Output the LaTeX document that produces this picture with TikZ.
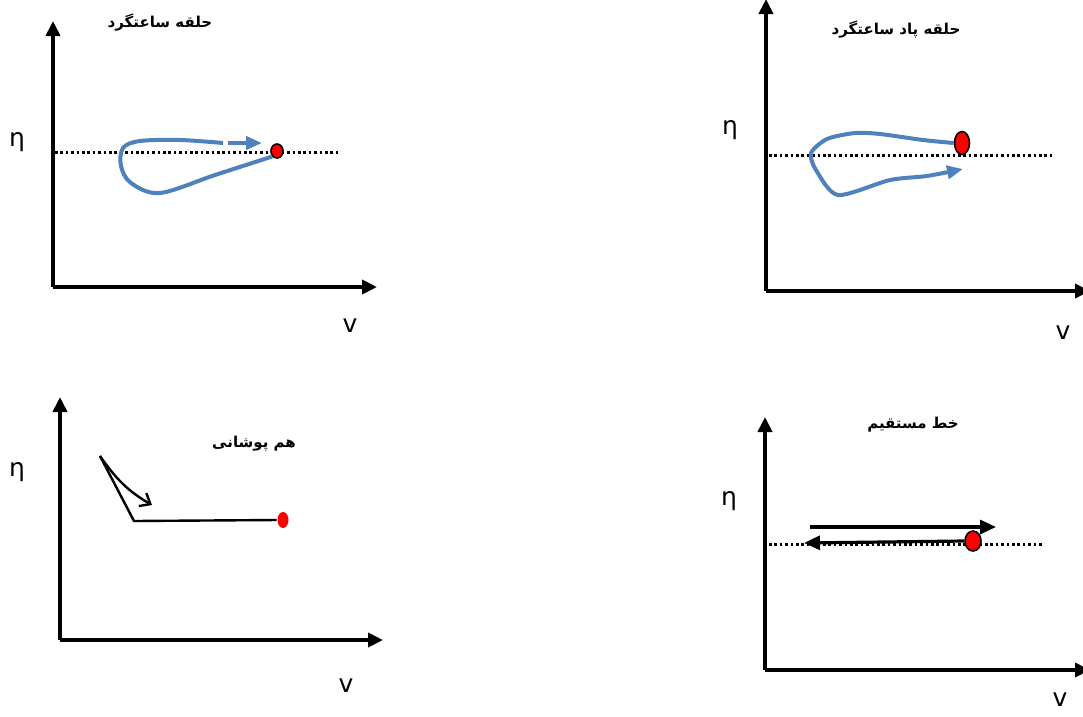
\documentclass[tikz,border=0pt]{standalone}
\usepackage{fontspec}
\setmainfont{DejaVu Sans}
\newfontfamily\farsi[Script=Arabic]{DejaVu Sans}
\TeXXeTstate=1
\usepackage{tikz}
\usetikzlibrary{shapes.geometric, arrows.meta, positioning}
\definecolor{loopblue}{RGB}{79,129,189}
\tikzstyle{axis} = [line width=3.8pt, -{Triangle[length=15pt,width=14pt]}]
\tikzstyle{level} = [line width=3pt, dash pattern=on 2.6pt off 2.8pt]
\tikzstyle{title} = [font=\farsi\bfseries\fontsize{15}{17}\selectfont]
\tikzstyle{sym} = [font=\fontsize{25}{27}\selectfont]
\tikzstyle{reddot} = [ellipse, draw=black, fill=red, line width=1.6pt, inner sep=0pt, minimum width=11pt, minimum height=13pt]
\tikzstyle{loopline} = [loopblue, line width=4pt]
\tikzstyle{bluetip} = [-{Triangle[length=16pt,width=13pt]}]
\tikzstyle{arrow} = [line width=3.2pt, -{Triangle[length=16pt,width=14pt]}]

\begin{document}
\begin{tikzpicture}[x=1pt,y=-1pt]
\useasboundingbox (0,0) rectangle (1083,716);

% clockwise loop
\coordinate (o1) at (53,287);
\coordinate (y1) at (53,21);
\coordinate (x1) at (377,287);
\draw [axis] (o1) -- (y1);
\draw [axis] (o1) -- (x1);
\node (t1) [title] at (160,23) {\beginR حلقه ساعتگرد\endR};
\node (eta1) [sym] at (17,142) {η};
\node (v1) [sym] at (350,326) {v};
\coordinate (l1a) at (55,152);
\coordinate (l1b) at (340,152);
\draw [level] (l1a) -- (l1b);
\node (p1) [reddot, minimum width=12pt, minimum height=14pt] at (277,151) {};
\draw [loopline] plot[smooth, tension=0.55] coordinates {(p1.south west) (215,175) (160,193) (131,183) (121,166) (123,148) (140,141) (180,140) (223,143)};
\coordinate (a1a) at (228,143);
\coordinate (a1b) at (262,143);
\draw [loopline, bluetip] (a1a) -- (a1b);

% counter-clockwise loop
\coordinate (o2) at (766,291);
\coordinate (y2) at (766,-1);
\coordinate (x2) at (1090,291);
\draw [axis] (o2) -- (y2);
\draw [axis] (o2) -- (x2);
\node (t2) [title] at (896,30) {\beginR حلقه پاد ساعتگرد\endR};
\node (eta2) [sym] at (730,130) {η};
\node (v2) [sym] at (1063,333) {v};
\coordinate (l2a) at (769,155);
\coordinate (l2b) at (1055,155);
\draw [level] (l2a) -- (l2b);
\node (p2) [reddot, minimum width=15pt, minimum height=23pt] at (962,143) {};
\draw [loopline, bluetip] plot[smooth, tension=0.45] coordinates {(p2.west) (923,140) (880,134) (855,133) (827,139) (811,153) (816,170) (838,195) (890,180) (927,176) (963,169)};

% overlap
\coordinate (o3) at (60,640);
\coordinate (y3) at (60,397);
\coordinate (x3) at (383,640);
\draw [axis] (o3) -- (y3);
\draw [axis] (o3) -- (x3);
\node (t3) [title] at (254,444) {\beginR هم پوشانی\endR};
\node (eta3) [sym] at (17,472) {η};
\node (v3) [sym] at (346,686) {v};
\coordinate (s3a) at (100,456);
\coordinate (s3b) at (134,521);
\node (p3) [reddot, draw=none, minimum width=11pt, minimum height=16pt] at (283,520) {};
\draw [line width=2.4pt] (s3a) -- (s3b) -- (p3.west);
\coordinate (c3) at (152,505);
\draw [line width=2.4pt, -{Straight Barb[length=9pt,width=15pt]}] (s3a) to [out=-55,in=150] (c3);

% straight line
\coordinate (o4) at (765,670);
\coordinate (y4) at (765,417);
\coordinate (x4) at (1090,670);
\draw [axis] (o4) -- (y4);
\draw [axis] (o4) -- (x4);
\node (t4) [title] at (913,425) {\beginR خط مستقیم\endR};
\node (eta4) [sym] at (729,501) {η};
\node (v4) [sym] at (1060,700) {v};
\coordinate (l4a) at (769,544);
\coordinate (l4b) at (1044,544);
\draw [level] (l4a) -- (l4b);
\node (p4) [reddot, minimum width=16pt, minimum height=20pt] at (973,541) {};
\coordinate (s4a) at (810,527);
\coordinate (s4b) at (996,527);
\draw [arrow] (s4a) -- (s4b);
\coordinate (s4c) at (804,543);
\draw [arrow] (p4.west) -- (s4c);
\end{tikzpicture}
\end{document}
